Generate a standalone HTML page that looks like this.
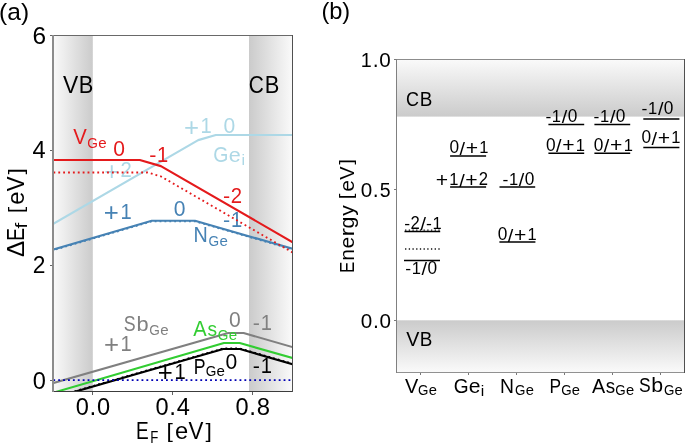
<!DOCTYPE html>
<html><head><meta charset="utf-8"><style>
html,body{margin:0;padding:0;background:#fff;}
svg{display:block;will-change:transform;font-family:"Liberation Sans",sans-serif;font-kerning:none;}
text{font-family:"Liberation Sans",sans-serif;}
</style></head><body>
<svg width="685" height="445" viewBox="0 0 685 445">
<rect width="685" height="445" fill="#fff"/>
<defs><linearGradient id="gvbL" x1="0" y1="0" x2="1" y2="0"><stop offset="0" stop-color="#fafafa"/><stop offset="1" stop-color="#cbcbcb"/></linearGradient><linearGradient id="gcbL" x1="0" y1="0" x2="1" y2="0"><stop offset="0" stop-color="#cbcbcb"/><stop offset="1" stop-color="#fafafa"/></linearGradient><linearGradient id="gcbR" x1="0" y1="0" x2="0" y2="1"><stop offset="0" stop-color="#fafafa"/><stop offset="1" stop-color="#cbcbcb"/></linearGradient><linearGradient id="gvbR" x1="0" y1="0" x2="0" y2="1"><stop offset="0" stop-color="#cbcbcb"/><stop offset="1" stop-color="#fafafa"/></linearGradient><clipPath id="clipL"><rect x="53.1" y="35.3" width="239.4" height="356"/></clipPath><clipPath id="clipR"><rect x="396.6" y="59.4" width="287.5" height="312.9"/></clipPath></defs>
<rect x="53.1" y="35.3" width="39.7" height="356" fill="url(#gvbL)"/>
<rect x="249" y="35.3" width="43.5" height="356" fill="url(#gcbL)"/>
<g font-size="22.5" fill="#000"><text transform="matrix(1.0148 0 0 1.0596 62.97 92.9)">V</text><text transform="matrix(0.9716 0 0 1.0596 78.7 92.9)">B</text></g>
<g font-size="22.5" fill="#000"><text transform="matrix(0.9283 0 0 1.0683 248.74 92.93)">C</text><text transform="matrix(0.9716 0 0 1.0596 264.67 92.85)">B</text></g>
<g clip-path="url(#clipL)"><path d="M51.1 225 L198.2 140.1 L215.8 135 L294.5 135" fill="none" stroke="#add8e6" stroke-width="2.15" stroke-linejoin="round" stroke-linecap="butt"/></g><g font-size="20" fill="#add8e6"><text transform="matrix(1.2884 0 0 1.2814 104.21 179.63)">+</text><text transform="matrix(1.0161 0 0 1.0629 120.55 177.38)">2</text></g><g font-size="20" fill="#add8e6"><text transform="matrix(1.2884 0 0 1.2814 184.03 135.71)">+</text><text transform="matrix(1.0068 0 0 1.0596 200.59 133.46)">1</text></g><g font-size="20" fill="#add8e6"><text transform="matrix(1.0541 0 0 1.0683 223.54 132.98)">0</text></g><g font-size="20" fill="#add8e6"><text transform="matrix(0.9753 0 0 1.0683 213.31 161.83)">G</text><text transform="matrix(1.0801 0 0 1.0481 228.85 161.83)">e</text></g><g font-size="14" fill="#add8e6"><text transform="matrix(1.1500 0 0 1.0485 241.62 164.98)">i</text></g>
<g clip-path="url(#clipL)"><path d="M51.1 250.86 L151.8 221.3 L195 221.3 L294.5 249.98" fill="none" stroke="#4682b4" stroke-width="1.85" stroke-linejoin="round" stroke-linecap="butt" stroke-dasharray="1.85 3.05"/><path d="M51.1 250.26 L151.8 220.7 L195 220.7 L294.5 249.38" fill="none" stroke="#4682b4" stroke-width="2.15" stroke-linejoin="round" stroke-linecap="butt"/></g><g font-size="20" fill="#4682b4"><text transform="matrix(1.2884 0 0 1.2814 103.83 221.11)">+</text><text transform="matrix(1.0068 0 0 1.0596 120.39 218.86)">1</text></g><g font-size="20" fill="#4682b4"><text transform="matrix(1.0541 0 0 1.0683 173.69 216.33)">0</text></g><g font-size="20" fill="#4682b4"><text transform="matrix(1.0780 0 0 1.0250 223.03 227.18)">-</text><text transform="matrix(1.0068 0 0 1.0596 230.89 227.21)">1</text></g><g font-size="20" fill="#4682b4"><text transform="matrix(0.9878 0 0 1.0596 193.41 242.21)">N</text></g><g font-size="14" fill="#4682b4"><text transform="matrix(0.9753 0 0 1.0683 208.5 245.51)">G</text><text transform="matrix(1.0801 0 0 1.0481 219.38 245.51)">e</text></g>
<g clip-path="url(#clipL)"><path d="M51.1 383.74 L228.2 333 L243.6 333 L294.5 347.68" fill="none" stroke="#808080" stroke-width="2.15" stroke-linejoin="round" stroke-linecap="butt"/></g><g font-size="20" fill="#808080"><text transform="matrix(0.8914 0 0 1.0683 123.85 330.55)">S</text><text transform="matrix(1.0879 0 0 1.0539 136.45 330.55)">b</text></g><g font-size="14" fill="#808080"><text transform="matrix(0.9753 0 0 1.0683 149.35 334.61)">G</text><text transform="matrix(1.0801 0 0 1.0481 160.23 334.61)">e</text></g><g font-size="20" fill="#808080"><text transform="matrix(1.2884 0 0 1.2814 103.93 353.26)">+</text><text transform="matrix(1.0068 0 0 1.0596 120.49 351.01)">1</text></g><g font-size="20" fill="#808080"><text transform="matrix(1.0541 0 0 1.0683 229.09 327.03)">0</text></g><g font-size="20" fill="#808080"><text transform="matrix(1.0780 0 0 1.0250 252.78 330.03)">-</text><text transform="matrix(1.0068 0 0 1.0596 260.64 330.06)">1</text></g>
<g clip-path="url(#clipL)"><path d="M51.1 393.3 L223.9 343 L239.7 343 L294.5 358.57" fill="none" stroke="#32cd32" stroke-width="2.15" stroke-linejoin="round" stroke-linecap="butt"/></g><g font-size="20" fill="#32cd32"><text transform="matrix(1.0074 0 0 1.0596 193.28 336.41)">A</text><text transform="matrix(0.9586 0 0 1.0509 207.39 336.49)">s</text></g><g font-size="14" fill="#32cd32"><text transform="matrix(0.9753 0 0 1.0683 217.75 340.01)">G</text><text transform="matrix(1.0801 0 0 1.0481 228.63 340.01)">e</text></g>
<g clip-path="url(#clipL)"><path d="M51.1 398.07 L223.2 348.5 L240 348.5 L294.5 364.28" fill="none" stroke="#000" stroke-width="1.85" stroke-linejoin="round" stroke-linecap="butt" stroke-dasharray="1.85 3.05"/><path d="M51.1 398.57 L223.2 349 L240 349 L294.5 364.78" fill="none" stroke="#000" stroke-width="2.15" stroke-linejoin="round" stroke-linecap="butt"/></g><g font-size="20" fill="#000"><text transform="matrix(1.2884 0 0 1.2814 157.83 381.01)">+</text><text transform="matrix(1.0068 0 0 1.0596 174.39 378.76)">1</text></g><g font-size="20" fill="#000"><text transform="matrix(0.8844 0 0 1.0596 193.69 373.91)">P</text></g><g font-size="14" fill="#000"><text transform="matrix(0.9753 0 0 1.0683 205.7 376.11)">G</text><text transform="matrix(1.0801 0 0 1.0481 216.58 376.11)">e</text></g><g font-size="20" fill="#000"><text transform="matrix(1.0541 0 0 1.0683 225.39 368.88)">0</text></g><g font-size="20" fill="#000"><text transform="matrix(1.0780 0 0 1.0250 252.78 372.53)">-</text><text transform="matrix(1.0068 0 0 1.0596 260.64 372.56)">1</text></g>
<g clip-path="url(#clipL)"><path d="M51.1 160 L139.8 160 L160.9 166.1 L294.5 243.26" fill="none" stroke="#e41a1c" stroke-width="2.15" stroke-linejoin="round" stroke-linecap="butt"/><path d="M48.55 172.5 L147.5 172.5 L160.7 176.3 L292.5 252.4" fill="none" stroke="#e41a1c" stroke-width="1.85" stroke-linejoin="round" stroke-linecap="butt" stroke-dasharray="1.85 3.025"/></g><g font-size="20" fill="#e41a1c"><text transform="matrix(1.0148 0 0 1.0596 73.28 144.16)">V</text></g><g font-size="14" fill="#e41a1c"><text transform="matrix(0.9753 0 0 1.0683 87.35 147.91)">G</text><text transform="matrix(1.0801 0 0 1.0481 98.23 147.91)">e</text></g><g font-size="20" fill="#e41a1c"><text transform="matrix(1.0541 0 0 1.0683 113.24 156.13)">0</text></g><g font-size="20" fill="#e41a1c"><text transform="matrix(1.0780 0 0 1.0250 149.13 161.78)">-</text><text transform="matrix(1.0068 0 0 1.0596 156.99 161.81)">1</text></g><g font-size="20" fill="#e41a1c"><text transform="matrix(1.0780 0 0 1.0250 223.11 202.69)">-</text><text transform="matrix(1.0161 0 0 1.0629 230.75 202.73)">2</text></g>
<g clip-path="url(#clipL)"><path d="M48.4 380.1 L294.5 380.1" fill="none" stroke="#0000b4" stroke-width="1.9" stroke-linejoin="round" stroke-linecap="butt" stroke-dasharray="1.85 3.05"/></g>
<rect x="52" y="35" width="241" height="1" fill="#696969"/>
<rect x="52" y="391" width="241" height="1" fill="#3c3c3c"/>
<rect x="52" y="35" width="2" height="357" fill="#8c8c8c"/>
<rect x="292" y="35" width="1" height="357" fill="#505050"/>
<rect x="50" y="35" width="2" height="1" fill="#646464"/>
<rect x="50" y="150" width="2" height="1" fill="#646464"/>
<rect x="50" y="265" width="2" height="1" fill="#646464"/>
<rect x="50" y="380" width="2" height="1" fill="#646464"/>
<rect x="92" y="392" width="1" height="3" fill="#646464"/>
<rect x="172" y="392" width="1" height="3" fill="#646464"/>
<rect x="252" y="392" width="1" height="3" fill="#646464"/>
<g font-size="22.4" fill="#000"><text transform="matrix(1.0910 0 0 1.0683 32.62 43.8)">6</text></g>
<g font-size="22.4" fill="#000"><text transform="matrix(1.0543 0 0 1.0596 32.61 158.14)">4</text></g>
<g font-size="22.4" fill="#000"><text transform="matrix(1.0161 0 0 1.0629 32.77 273.29)">2</text></g>
<g font-size="22.4" fill="#000"><text transform="matrix(1.0541 0 0 1.0683 32.83 388.6)">0</text></g>
<g font-size="22.4" fill="#000"><text transform="matrix(1.0541 0 0 1.0683 75.65 415.1)">0</text><text transform="matrix(1.0821 0 0 1.1598 89.53 415.01)">.</text><text transform="matrix(1.0541 0 0 1.0683 97.02 415.1)">0</text></g>
<g font-size="22.4" fill="#000"><text transform="matrix(1.0541 0 0 1.0683 155.43 415.1)">0</text><text transform="matrix(1.0821 0 0 1.1598 169.31 415.01)">.</text><text transform="matrix(1.0543 0 0 1.0596 176.8 415.01)">4</text></g>
<g font-size="22.4" fill="#000"><text transform="matrix(1.0541 0 0 1.0683 235.42 415.1)">0</text><text transform="matrix(1.0821 0 0 1.1598 249.3 415.01)">.</text><text transform="matrix(1.0656 0 0 1.0683 256.72 415.1)">8</text></g>
<g font-size="22" fill="#000"><text transform="matrix(0.8667 0 0 1.0596 135.92 439.18)">E</text></g>
<g font-size="15.4" fill="#000"><text transform="matrix(0.8571 0 0 1.0596 150.14 442.94)">F</text></g>
<g font-size="22" fill="#000"><text transform="matrix(1.0418 0 0 0.9565 166.53 437.71)">[</text><text transform="matrix(1.0801 0 0 1.0481 175.06 439.27)">e</text><text transform="matrix(1.0148 0 0 1.0596 188.47 439.18)">V</text><text transform="matrix(1.0418 0 0 0.9565 205.4 437.71)">]</text></g>
<g transform="rotate(-90)"><g font-size="22" fill="#000"><text transform="matrix(1.0988 0 0 1.0596 -256.91 24.18)">Δ</text><text transform="matrix(0.8667 0 0 1.0596 -240.71 24.18)">E</text></g></g>
<g transform="rotate(-90)"><g font-size="15.4" fill="#000"><text transform="matrix(1.3131 0 0 1.0499 -228.62 26.65)">f</text></g></g>
<g transform="rotate(-90)"><g font-size="22" fill="#000"><text transform="matrix(1.0418 0 0 0.9565 -213.27 22.91)">[</text><text transform="matrix(1.0801 0 0 1.0481 -204.74 24.47)">e</text><text transform="matrix(1.0148 0 0 1.0596 -191.33 24.38)">V</text><text transform="matrix(1.0418 0 0 0.9565 -174.4 22.91)">]</text></g></g>
<text x="-0.9" y="19.8" font-size="24.5" fill="#000">(a)</text>
<rect x="396.6" y="59.4" width="287.4" height="57.2" fill="url(#gcbR)"/>
<rect x="396.6" y="320.3" width="287.4" height="52" fill="url(#gvbR)"/>
<g font-size="19.4" fill="#000"><text transform="matrix(0.9283 0 0 1.0683 405.94 105.85)">C</text><text transform="matrix(0.9716 0 0 1.0596 419.67 105.78)">B</text></g>
<g font-size="19.4" fill="#000"><text transform="matrix(1.0148 0 0 1.0596 406.24 346.38)">V</text><text transform="matrix(0.9716 0 0 1.0596 419.8 346.38)">B</text></g>
<path d="M405.05 230.2 H440.2" stroke="#111" stroke-width="1.3" stroke-dasharray="1.3 2.4"/>
<path d="M404.5 231.5 H440.2" stroke="#000" stroke-width="1.5"/>
<path d="M405.05 249 H440" stroke="#111" stroke-width="1.3" stroke-dasharray="1.3 2.4"/>
<path d="M404 260.5 H440" stroke="#000" stroke-width="1.5"/>
<path d="M450.1 155.9 H486.1" stroke="#000" stroke-width="1.5"/>
<path d="M450.1 187 H486.1" stroke="#000" stroke-width="1.5"/>
<path d="M499.5 187 H535.2" stroke="#000" stroke-width="1.5"/>
<path d="M499.4 241.9 H535.4" stroke="#000" stroke-width="1.5"/>
<path d="M548.4 124.4 H584.2" stroke="#000" stroke-width="1.5"/>
<path d="M548.4 153.3 H584.2" stroke="#000" stroke-width="1.5"/>
<path d="M594.4 124.5 H630.2" stroke="#000" stroke-width="1.5"/>
<path d="M594.4 153.2 H630.2" stroke="#000" stroke-width="1.5"/>
<path d="M643.3 119.1 H679.4" stroke="#000" stroke-width="1.5"/>
<path d="M643.3 147.6 H679.4" stroke="#000" stroke-width="1.5"/>
<g font-size="16.4" fill="#000"><text transform="matrix(1.0780 0 0 1.0250 404.16 229.09)">-</text><text transform="matrix(1.0161 0 0 1.0629 410.42 229.11)">2</text><text transform="matrix(1.2127 0 0 1.1190 420.49 230.46)">/</text><text transform="matrix(1.0780 0 0 1.0250 426.03 229.09)">-</text><text transform="matrix(1.0068 0 0 1.0596 432.48 229.11)">1</text></g>
<g font-size="16.4" fill="#000"><text transform="matrix(1.0780 0 0 1.0250 405.2 273.69)">-</text><text transform="matrix(1.0068 0 0 1.0596 411.65 273.72)">1</text><text transform="matrix(1.2127 0 0 1.1190 421.54 275.06)">/</text><text transform="matrix(1.0541 0 0 1.0683 427.47 273.78)">0</text></g>
<g font-size="16.4" fill="#000"><text transform="matrix(1.0541 0 0 1.0683 449.5 153.38)">0</text><text transform="matrix(1.2127 0 0 1.1190 459.53 154.66)">/</text><text transform="matrix(1.2884 0 0 1.2814 465.76 155.16)">+</text><text transform="matrix(1.0068 0 0 1.0596 479.34 153.32)">1</text></g>
<g font-size="16.4" fill="#000"><text transform="matrix(1.2884 0 0 1.2814 435.67 187.06)">+</text><text transform="matrix(1.0068 0 0 1.0596 449.25 185.21)">1</text><text transform="matrix(1.2127 0 0 1.1190 459.14 186.56)">/</text><text transform="matrix(1.2884 0 0 1.2814 465.37 187.06)">+</text><text transform="matrix(1.0161 0 0 1.0629 478.77 185.21)">2</text></g>
<g font-size="16.4" fill="#000"><text transform="matrix(1.0780 0 0 1.0250 502.45 185.04)">-</text><text transform="matrix(1.0068 0 0 1.0596 508.9 185.07)">1</text><text transform="matrix(1.2127 0 0 1.1190 518.79 186.41)">/</text><text transform="matrix(1.0541 0 0 1.0683 524.72 185.13)">0</text></g>
<g font-size="16.4" fill="#000"><text transform="matrix(1.0541 0 0 1.0683 497.65 240.28)">0</text><text transform="matrix(1.2127 0 0 1.1190 507.68 241.56)">/</text><text transform="matrix(1.2884 0 0 1.2814 513.91 242.06)">+</text><text transform="matrix(1.0068 0 0 1.0596 527.49 240.22)">1</text></g>
<g font-size="16.4" fill="#000"><text transform="matrix(1.0780 0 0 1.0250 545.4 122.09)">-</text><text transform="matrix(1.0068 0 0 1.0596 551.85 122.12)">1</text><text transform="matrix(1.2127 0 0 1.1190 561.74 123.46)">/</text><text transform="matrix(1.0541 0 0 1.0683 567.67 122.18)">0</text></g>
<g font-size="16.4" fill="#000"><text transform="matrix(1.0541 0 0 1.0683 545.9 150.63)">0</text><text transform="matrix(1.2127 0 0 1.1190 555.93 151.91)">/</text><text transform="matrix(1.2884 0 0 1.2814 562.16 152.41)">+</text><text transform="matrix(1.0068 0 0 1.0596 575.74 150.57)">1</text></g>
<g font-size="16.4" fill="#000"><text transform="matrix(1.0780 0 0 1.0250 593.6 121.79)">-</text><text transform="matrix(1.0068 0 0 1.0596 600.05 121.82)">1</text><text transform="matrix(1.2127 0 0 1.1190 609.94 123.16)">/</text><text transform="matrix(1.0541 0 0 1.0683 615.87 121.88)">0</text></g>
<g font-size="16.4" fill="#000"><text transform="matrix(1.0541 0 0 1.0683 593.8 150.63)">0</text><text transform="matrix(1.2127 0 0 1.1190 603.83 151.91)">/</text><text transform="matrix(1.2884 0 0 1.2814 610.06 152.41)">+</text><text transform="matrix(1.0068 0 0 1.0596 623.64 150.57)">1</text></g>
<g font-size="16.4" fill="#000"><text transform="matrix(1.0780 0 0 1.0250 641.6 113.84)">-</text><text transform="matrix(1.0068 0 0 1.0596 648.05 113.87)">1</text><text transform="matrix(1.2127 0 0 1.1190 657.94 115.21)">/</text><text transform="matrix(1.0541 0 0 1.0683 663.87 113.93)">0</text></g>
<g font-size="16.4" fill="#000"><text transform="matrix(1.0541 0 0 1.0683 641.45 143.33)">0</text><text transform="matrix(1.2127 0 0 1.1190 651.48 144.61)">/</text><text transform="matrix(1.2884 0 0 1.2814 657.71 145.11)">+</text><text transform="matrix(1.0068 0 0 1.0596 671.29 143.27)">1</text></g>
<rect x="396" y="59" width="289" height="1" fill="#8c8c8c"/>
<rect x="396" y="372" width="289" height="1" fill="#919191"/>
<rect x="396" y="59" width="1" height="314" fill="#808080"/>
<rect x="684" y="59" width="1" height="314" fill="#505050"/>
<rect x="394" y="59" width="2" height="1" fill="#787878"/>
<rect x="394" y="189" width="2" height="1" fill="#787878"/>
<rect x="394" y="320" width="2" height="1" fill="#787878"/>
<rect x="420" y="373" width="1" height="2" fill="#787878"/>
<rect x="468" y="373" width="1" height="2" fill="#787878"/>
<rect x="516" y="373" width="1" height="2" fill="#787878"/>
<rect x="564" y="373" width="1" height="2" fill="#787878"/>
<rect x="612" y="373" width="1" height="2" fill="#787878"/>
<rect x="660" y="373" width="1" height="2" fill="#787878"/>
<g font-size="19.6" fill="#000"><text transform="matrix(1.0068 0 0 1.0596 360.79 66.71)">1</text><text transform="matrix(1.0821 0 0 1.1598 372.77 66.71)">.</text><text transform="matrix(1.0541 0 0 1.0683 379.32 66.78)">0</text></g>
<g font-size="19.6" fill="#000"><text transform="matrix(1.0541 0 0 1.0683 360.71 196.98)">0</text><text transform="matrix(1.0821 0 0 1.1598 372.85 196.91)">.</text><text transform="matrix(0.9949 0 0 1.0651 379.66 196.98)">5</text></g>
<g font-size="19.6" fill="#000"><text transform="matrix(1.0541 0 0 1.0683 360.75 327.78)">0</text><text transform="matrix(1.0821 0 0 1.1598 372.9 327.71)">.</text><text transform="matrix(1.0541 0 0 1.0683 379.45 327.78)">0</text></g>
<g font-size="19.6" fill="#000"><text transform="matrix(1.0148 0 0 1.0596 405.01 392.51)">V</text></g><g font-size="13.7" fill="#000"><text transform="matrix(0.9753 0 0 1.0683 417.98 395.28)">G</text><text transform="matrix(1.0801 0 0 1.0481 428.63 395.28)">e</text></g>
<g font-size="19.6" fill="#000"><text transform="matrix(0.9753 0 0 1.0683 453.64 392.53)">G</text><text transform="matrix(1.0801 0 0 1.0481 468.87 392.54)">e</text></g><g font-size="13.7" fill="#000"><text transform="matrix(1.1500 0 0 1.0485 480.8 395.85)">i</text></g>
<g font-size="19.6" fill="#000"><text transform="matrix(0.9878 0 0 1.0596 500.01 392.51)">N</text></g><g font-size="13.7" fill="#000"><text transform="matrix(0.9753 0 0 1.0683 514.98 395.28)">G</text><text transform="matrix(1.0801 0 0 1.0481 525.63 395.28)">e</text></g>
<g font-size="19.6" fill="#000"><text transform="matrix(0.8844 0 0 1.0596 549.48 392.51)">P</text></g><g font-size="13.7" fill="#000"><text transform="matrix(0.9753 0 0 1.0683 561.18 395.28)">G</text><text transform="matrix(1.0801 0 0 1.0481 571.83 395.28)">e</text></g>
<g font-size="19.6" fill="#000"><text transform="matrix(1.0074 0 0 1.0596 591.96 392.51)">A</text><text transform="matrix(0.9586 0 0 1.0509 605.79 392.58)">s</text></g><g font-size="13.7" fill="#000"><text transform="matrix(0.9753 0 0 1.0683 615.28 395.28)">G</text><text transform="matrix(1.0801 0 0 1.0481 625.93 395.28)">e</text></g>
<g font-size="19.6" fill="#000"><text transform="matrix(0.8914 0 0 1.0683 638.91 392.03)">S</text><text transform="matrix(1.0879 0 0 1.0539 651.26 392.04)">b</text></g><g font-size="13.7" fill="#000"><text transform="matrix(0.9753 0 0 1.0683 663.88 395.28)">G</text><text transform="matrix(1.0801 0 0 1.0481 674.53 395.28)">e</text></g>
<g transform="rotate(-90)"><g font-size="19.6" fill="#000"><text transform="matrix(0.8667 0 0 1.0596 -273.02 353.81)">E</text><text transform="matrix(1.0782 0 0 1.0408 -260.79 353.81)">n</text><text transform="matrix(1.0801 0 0 1.0481 -248.56 353.88)">e</text><text transform="matrix(1.2813 0 0 1.0408 -236.57 353.81)">r</text><text transform="matrix(1.0869 0 0 1.0322 -228.44 353.68)">g</text><text transform="matrix(1.0739 0 0 1.0259 -215.65 353.71)">y</text></g></g>
<g transform="rotate(-90)"><g font-size="19.6" fill="#000"><text transform="matrix(1.0418 0 0 0.9565 -199.35 352.35)">[</text><text transform="matrix(1.0801 0 0 1.0481 -191.75 353.73)">e</text><text transform="matrix(1.0148 0 0 1.0596 -179.81 353.66)">V</text><text transform="matrix(1.0418 0 0 0.9565 -164.72 352.35)">]</text></g></g>
<text x="321.4" y="19.1" font-size="23.6" fill="#000">(b)</text>
</svg>
</body></html>
